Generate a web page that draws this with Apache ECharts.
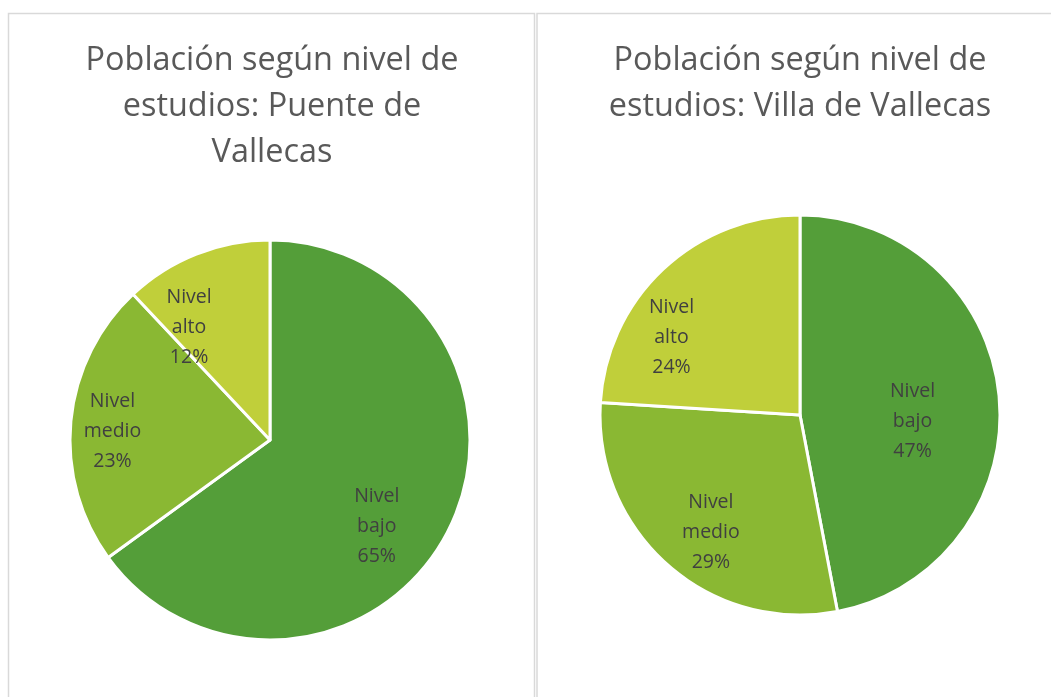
<!DOCTYPE html>
<html><head><meta charset="utf-8">
<script src="https://cdn.jsdelivr.net/npm/echarts@6/dist/echarts.min.js"></script>
<style>html,body{margin:0;padding:0;background:#fff}#c{width:1051px;height:697px}</style>
</head><body><div id="c"></div>
<script>
const categories = ['Nivel bajo', 'Nivel medio', 'Nivel alto'];
const puenteValues = [65, 23, 12];
const villaValues = [47, 29, 24];
const titles = ['Población según nivel de\nestudios: Puente de\nVallecas', 'Población según nivel de\nestudios: Villa de Vallecas'];
const colors = ['#549E39', '#8AB833', '#C0CF3A'];

// label nudges (dx, dy) relative to the default inside position
const puenteNudge = [[15, 40], [-55, 1], [-43, -17]];
const villaNudge = [[10, 16], [-21, 40], [-58, -2]];

function mk(vals) { return categories.map((n, i) => ({ name: n, value: vals[i] })); }
function pie(vals, cx, cy, nudge) {
  return {
    type: 'pie', center: [cx, cy], radius: [0, 200], startAngle: 90, clockwise: true,
    data: mk(vals), color: colors, animation: false, silent: true,
    itemStyle: { borderColor: '#fff', borderWidth: 3 },
    label: {
      position: 'inside', fontFamily: 'Open Sans', fontSize: 19.5, color: '#404040', lineHeight: 30, align: 'center',
      formatter: p => p.name.replace(' ', '\n') + '\n' + p.percent.toFixed(0) + '%'
    },
    labelLine: { show: false },
    labelLayout: p => ({ dx: nudge[p.dataIndex][0], dy: nudge[p.dataIndex][1] })
  };
}
const ts = { fontFamily: 'Open Sans', fontWeight: 'normal', fontSize: 32.4, color: '#595959', lineHeight: 46 };
const chart = echarts.init(document.getElementById('c'), null, { renderer: 'canvas' });
chart.setOption({
  animation: false,
  title: [
    { text: titles[0], left: 267, top: 33, textAlign: 'center', textStyle: ts },
    { text: titles[1], left: 795, top: 33, textAlign: 'center', textStyle: ts }
  ],
  graphic: [
    { type: 'rect', shape: { x: 8.5, y: 13.5, width: 526, height: 700 }, style: { fill: 'none', stroke: '#d9d9d9', lineWidth: 1.5 }, silent: true },
    { type: 'rect', shape: { x: 537, y: 13.5, width: 600, height: 700 }, style: { fill: 'none', stroke: '#d9d9d9', lineWidth: 1.5 }, silent: true }
  ],
  series: [pie(puenteValues, 270, 440, puenteNudge), pie(villaValues, 800, 415, villaNudge)]
});
</script></body></html>
